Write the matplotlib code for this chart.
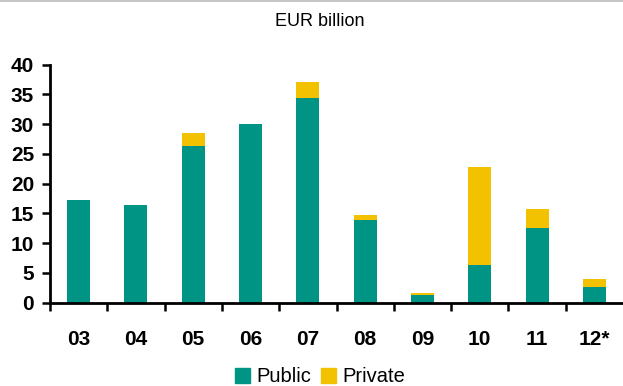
import matplotlib
matplotlib.use("Agg")
import matplotlib.pyplot as plt
from matplotlib.lines import Line2D
from matplotlib.patches import Patch

plt.rcParams['font.family'] = ['Liberation Sans', 'DejaVu Sans']

years = ["03", "04", "05", "06", "07", "08", "09", "10", "11", "12*"]
public = [17.2, 16.4, 26.3, 30.0, 34.4, 13.9, 1.2, 6.3, 12.5, 2.6]
private = [0.0, 0.0, 2.2, 0.0, 2.7, 0.8, 0.4, 16.5, 3.2, 1.3]

teal = "#009485"
gold = "#F2C100"

fig = plt.figure(figsize=(6.23, 3.86), dpi=100)
ax = fig.add_axes([50 / 623, 1 - 302.5 / 386, 1 - 50 / 623, (302.5 - 64.7) / 386])

x = list(range(len(years)))
ax.bar(x, public, width=0.4, color=teal, label="Public", zorder=2)
ax.bar(x, private, width=0.4, bottom=public, color=gold, label="Private", zorder=2)

ax.set_xlim(-0.5, len(years) - 0.5)
ax.set_ylim(0, 40)
ax.set_yticks(range(0, 41, 5))

# category boundaries carry the tick marks, labels sit at the centres
ax.set_xticks([i - 0.5 for i in range(len(years))])
ax.set_xticklabels([])
ax.set_xticks(x, minor=True)
ax.set_xticklabels(years, minor=True)

for s in ("top", "right"):
    ax.spines[s].set_visible(False)
for s in ("left", "bottom"):
    ax.spines[s].set_linewidth(2.0)
    ax.spines[s].set_color("black")
ax.spines["bottom"].set_zorder(3)

ax.tick_params(axis="y", which="major", direction="out", length=5.5, width=1.8,
               pad=6, labelsize=15)
ax.tick_params(axis="x", which="major", direction="out", length=6, width=1.8)
ax.tick_params(axis="x", which="minor", length=0, pad=20, labelsize=15)
for lbl in ax.get_yticklabels() + ax.get_xticklabels(minor=True):
    lbl.set_fontweight("bold")

fig.text(320 / 623, 1 - 21 / 386, "EUR billion", ha="center", va="center", fontsize=13)

handles = [Patch(color=teal, label="Public"), Patch(color=gold, label="Private")]
fig.legend(handles=handles, loc="center", bbox_to_anchor=(320 / 623, 1 - 377 / 386),
           ncol=2, frameon=False, fontsize=14.5, handlelength=0.75, handleheight=0.75,
           handletextpad=0.3, columnspacing=0.5)

fig.add_artist(Line2D([0, 1], [1 - 0.5 / 386, 1 - 0.5 / 386], transform=fig.transFigure,
                      color="#bbbbbb", linewidth=1.2))

fig.savefig("out.png", dpi=100)
